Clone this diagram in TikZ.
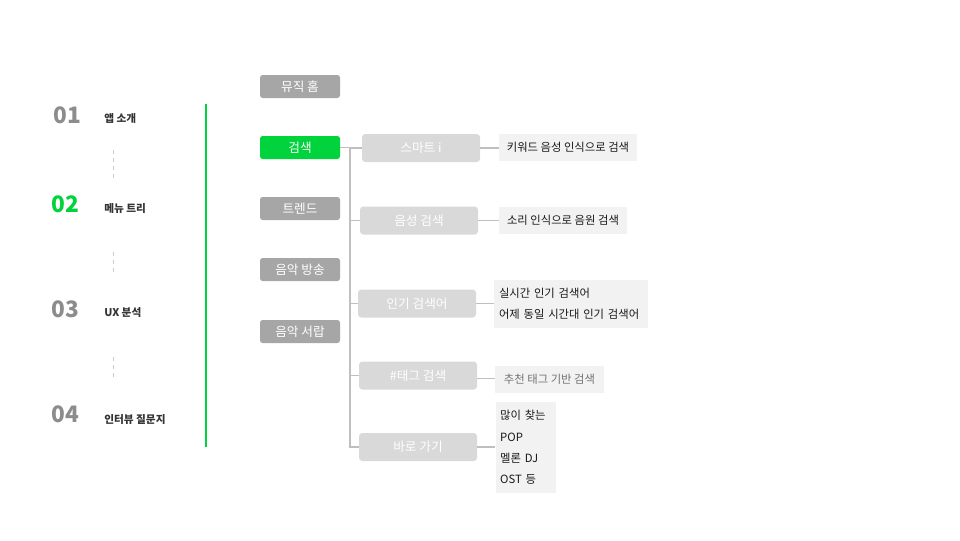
\documentclass[tikz,border=0pt]{standalone}
\usepackage{fontspec}
\setmainfont{Noto Sans CJK KR}
\newfontfamily\numfont{Noto Sans CJK KR}
\definecolor{mgreen}{HTML}{00D33C}
\definecolor{mgray}{HTML}{A6A6A6}
\definecolor{sgray}{HTML}{D9D9D9}
\definecolor{lgray}{HTML}{F2F2F2}
\definecolor{cgray}{HTML}{BFBFBF}
\definecolor{ngray}{HTML}{8C8C8C}
\begin{document}
\begin{tikzpicture}[x=0.75pt,y=-0.75pt,
  mainbox/.style={rounded corners=2pt, fill=mgray, text=white, minimum width=60pt, minimum height=17.25pt, inner sep=0pt, font=\fontsize{9.5pt}{11pt}\selectfont},
  subbox/.style={rounded corners=2.5pt, fill=sgray, text=white, minimum width=88.5pt, minimum height=21pt, inner sep=0pt, font=\fontsize{9.5pt}{11pt}\selectfont},
  leafbox/.style={fill=lgray, text=black!90, inner sep=0pt, font=\fontsize{8.5pt}{10pt}\selectfont},
  conn/.style={draw=cgray, line width=0.8pt},
  numtxt/.style={font=\numfont\bfseries\fontsize{17pt}{18pt}\selectfont, inner sep=0pt, text=ngray},
  menutxt/.style={font=\bfseries\fontsize{8pt}{10pt}\selectfont, text=black!80, anchor=west, inner sep=0pt},
  dashv/.style={draw=black!20, dashed, line width=0.6pt}
]
\useasboundingbox (0,0) rectangle (960,540);

% left index
\node[numtxt] (n1) at (67,115) {01};
\node[numtxt, text=mgreen] (n2) at (65,204) {02};
\node[numtxt] (n3) at (65,309) {03};
\node[numtxt] (n4) at (65,414) {04};

\node[menutxt] (m1) at (104,118) {앱 소개};
\node[menutxt] (m2) at (104,209) {메뉴 트리};
\node[menutxt] (m3) at (104,313) {UX 분석};
\node[menutxt] (m4) at (104,420) {인터뷰 질문지};

\draw[dashv] (113,150) -- (113,178);
\draw[dashv] (113,252) -- (113,276);
\draw[dashv] (113,357) -- (113,381);

\draw[mgreen, line width=1pt] (206,104) -- (206,447);

% main menu
\node[mainbox] (home) at (300,86.5) {뮤직 홈};
\node[mainbox, fill=mgreen] (search) at (300,147.5) {검색};
\node[mainbox] (trend) at (300,208.5) {트렌드};
\node[mainbox] (show) at (300,269.5) {음악 방송};
\node[mainbox] (drawer) at (300,331.5) {음악 서랍};

% sub menu
\node[subbox] (smart) at (421,148) {스마트 i};
\node[subbox] (voice) at (419,220.5) {음성 검색};
\node[subbox] (popular) at (417,303.5) {인기 검색어};
\node[subbox] (tag) at (418,375.5) {\#태그 검색};
\node[subbox] (quick) at (418,447) {바로 가기};

% leaves
\node[leafbox, minimum width=103.5pt, minimum height=20.25pt] (l1) at (568,147.5) {키워드 음성 인식으로 검색};
\node[leafbox, minimum width=96pt, minimum height=20.25pt] (l2) at (563,220.5) {소리 인식으로 음원 검색};
\node[leafbox, minimum width=114pt, minimum height=36pt, align=left, text width=108pt, inner xsep=3.5pt, font=\fontsize{8.5pt}{16pt}\selectfont] (l3) at (571,304) {실시간 인기 검색어\\어제 동일 시간대 인기 검색어};
\node[leafbox, minimum width=81.75pt, minimum height=20.25pt, text=black!55] (l4) at (549.5,379.5) {추천 태그 기반 검색};
\node[leafbox, minimum width=44.25pt, minimum height=68.25pt, align=left, text width=38pt, inner xsep=3.5pt, font=\fontsize{8.5pt}{16pt}\selectfont] (l5) at (525.5,447.5) {많이 찾는\\POP\\멜론 DJ\\OST 등};

% connectors
\coordinate (tk) at (350,0);
\draw[conn] (search.east) -- (search.east -| tk) -- (quick.west -| tk) -- (quick.west);
\draw[conn] (smart.west -| tk) -- (smart.west);
\draw[conn] (voice.west -| tk) -- (voice.west);
\draw[conn] (popular.west -| tk) -- (popular.west);
\draw[conn] (tag.west -| tk) -- (tag.west);

\draw[conn] (smart.east) -- (smart.east -| l1.west);
\draw[conn] (voice.east) -- (voice.east -| l2.west);
\draw[conn] (popular.east) -- (popular.east -| l3.west);
\draw[conn] ([yshift=-2.25pt]tag.east) -- ([yshift=-2.25pt]tag.east -| l4.west);
\draw[conn] (quick.east) -- (quick.east -| l5.west);
\end{tikzpicture}
\end{document}
